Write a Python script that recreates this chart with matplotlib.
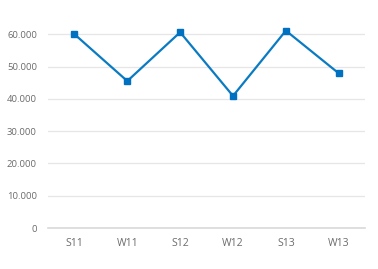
import numpy as np
import matplotlib
matplotlib.use("Agg")
import matplotlib.pyplot as plt
from matplotlib.ticker import FuncFormatter

categories = ['S11', 'W11', 'S12', 'W12', 'S13', 'W13']
values = [60000, 45500, 60600, 40900, 61100, 47900]
y_ticks = [0, 10000, 20000, 30000, 40000, 50000, 60000]

plt.rcParams['font.family'] = ['Open Sans', 'DejaVu Sans']

fig = plt.figure(figsize=(3.78, 2.69), dpi=100)
ax = fig.add_axes([0.127, 0.152, 0.839, 0.811])

x = np.arange(len(categories))
ax.plot(x, values, color='#0A7BC2', linewidth=1.6, marker='s', markersize=5,
        markerfacecolor='#0070C0', markeredgecolor='#0070C0', zorder=3)

ax.set_xlim(-0.5, len(categories) - 0.5)
ax.set_ylim(0, 67500)
ax.set_yticks(y_ticks)
ax.yaxis.set_major_formatter(FuncFormatter(lambda v, p: '{:,.0f}'.format(v).replace(',', '.')))
ax.set_xticks(x)
ax.set_xticklabels(categories)

ax.grid(axis='y', color='#e6e6e6', linewidth=0.9)
ax.set_axisbelow(True)
for s in ['top', 'right', 'left']:
    ax.spines[s].set_visible(False)
ax.spines['bottom'].set_color('#d9d9d9')
ax.spines['bottom'].set_linewidth(1.2)

ax.tick_params(axis='both', length=0, colors='#6b6b6b')
ax.tick_params(axis='y', pad=8, labelsize=6.8)
ax.tick_params(axis='x', pad=7, labelsize=7.5)

fig.savefig('out.png', dpi=100)
